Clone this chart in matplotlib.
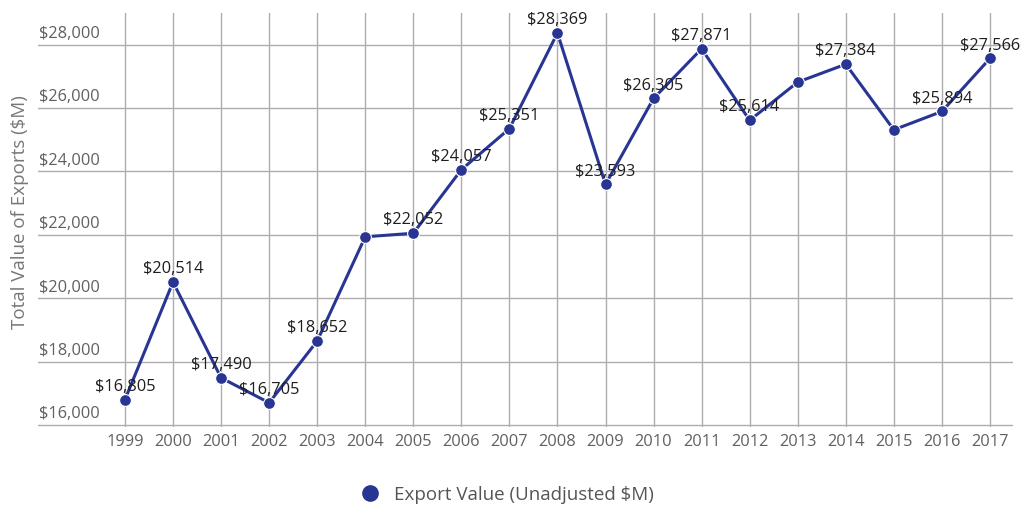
import matplotlib.pyplot as plt
import matplotlib.transforms as mtransforms
from matplotlib.lines import Line2D

plt.rcParams['font.family'] = ['Open Sans', 'DejaVu Sans']

years = [1999, 2000, 2001, 2002, 2003, 2004, 2005, 2006, 2007, 2008,
         2009, 2010, 2011, 2012, 2013, 2014, 2015, 2016, 2017]
exports = [16805, 20514, 17490, 16705, 18652, 21940, 22052, 24057, 25351, 28369,
           23593, 26305, 27871, 25614, 26820, 27384, 25316, 25894, 27566]
# points that carry a value label in the original
labelled = [True, True, True, True, True, False, True, True, True, True,
            True, True, True, True, False, True, False, True, True]
yticks = [16000, 18000, 20000, 22000, 24000, 26000, 28000]

line_color = '#283593'
grid_color = '#adadad'

fig = plt.figure(figsize=(10.21, 5.08), dpi=100)
ax = fig.add_axes([38 / 1021, 1 - 427 / 508, (1013 - 38) / 1021, (427 - 13) / 508])

ax.plot(years, exports, color=line_color, lw=2.2, marker='o', ms=8.5,
        markeredgecolor='white', markeredgewidth=0.8, zorder=3)

for x, v, show in zip(years, exports, labelled):
    if show:
        ax.annotate(f'${v:,}', (x, v), xytext=(0, 3.5), textcoords='offset points',
                    ha='center', va='bottom', fontsize=11.8, color='#1e1e1e', zorder=4)

ax.set_xlim(1997.19, 2017.48)
ax.set_ylim(15940, 29000)
ax.set_xticks(years)
ax.set_xticklabels([str(y) for y in years])
ax.set_yticks(yticks)
ax.set_yticklabels([f'${t:,}' for t in yticks])

ax.grid(True, color=grid_color, lw=1)
ax.set_axisbelow(True)
for s in ax.spines.values():
    s.set_visible(False)

ax.tick_params(axis='x', length=0, pad=5, labelsize=11.8, labelcolor='#606060')
ax.tick_params(axis='y', length=0, pad=-1, labelsize=11.8, labelcolor='#606060')
offset = mtransforms.ScaledTranslation(0, 2 / 72, fig.dpi_scale_trans)
for lab in ax.get_yticklabels():
    lab.set_horizontalalignment('left')
    lab.set_verticalalignment('bottom')
    lab.set_transform(lab.get_transform() + offset)

fig.text(20 / 1021, 1 - 212 / 508, 'Total Value of Exports ($M)', rotation=90,
         ha='center', va='center', fontsize=13.5, color='#777777')

handle = Line2D([], [], color=line_color, marker='o', ms=11, linestyle='none')
fig.legend([handle], ['Export Value (Unadjusted $M)'], loc='center',
           bbox_to_anchor=(0.492, 1 - 495 / 508), frameon=False, fontsize=13.5,
           labelcolor='#555555', handletextpad=0.3)

fig.savefig('out.png', dpi=100)
